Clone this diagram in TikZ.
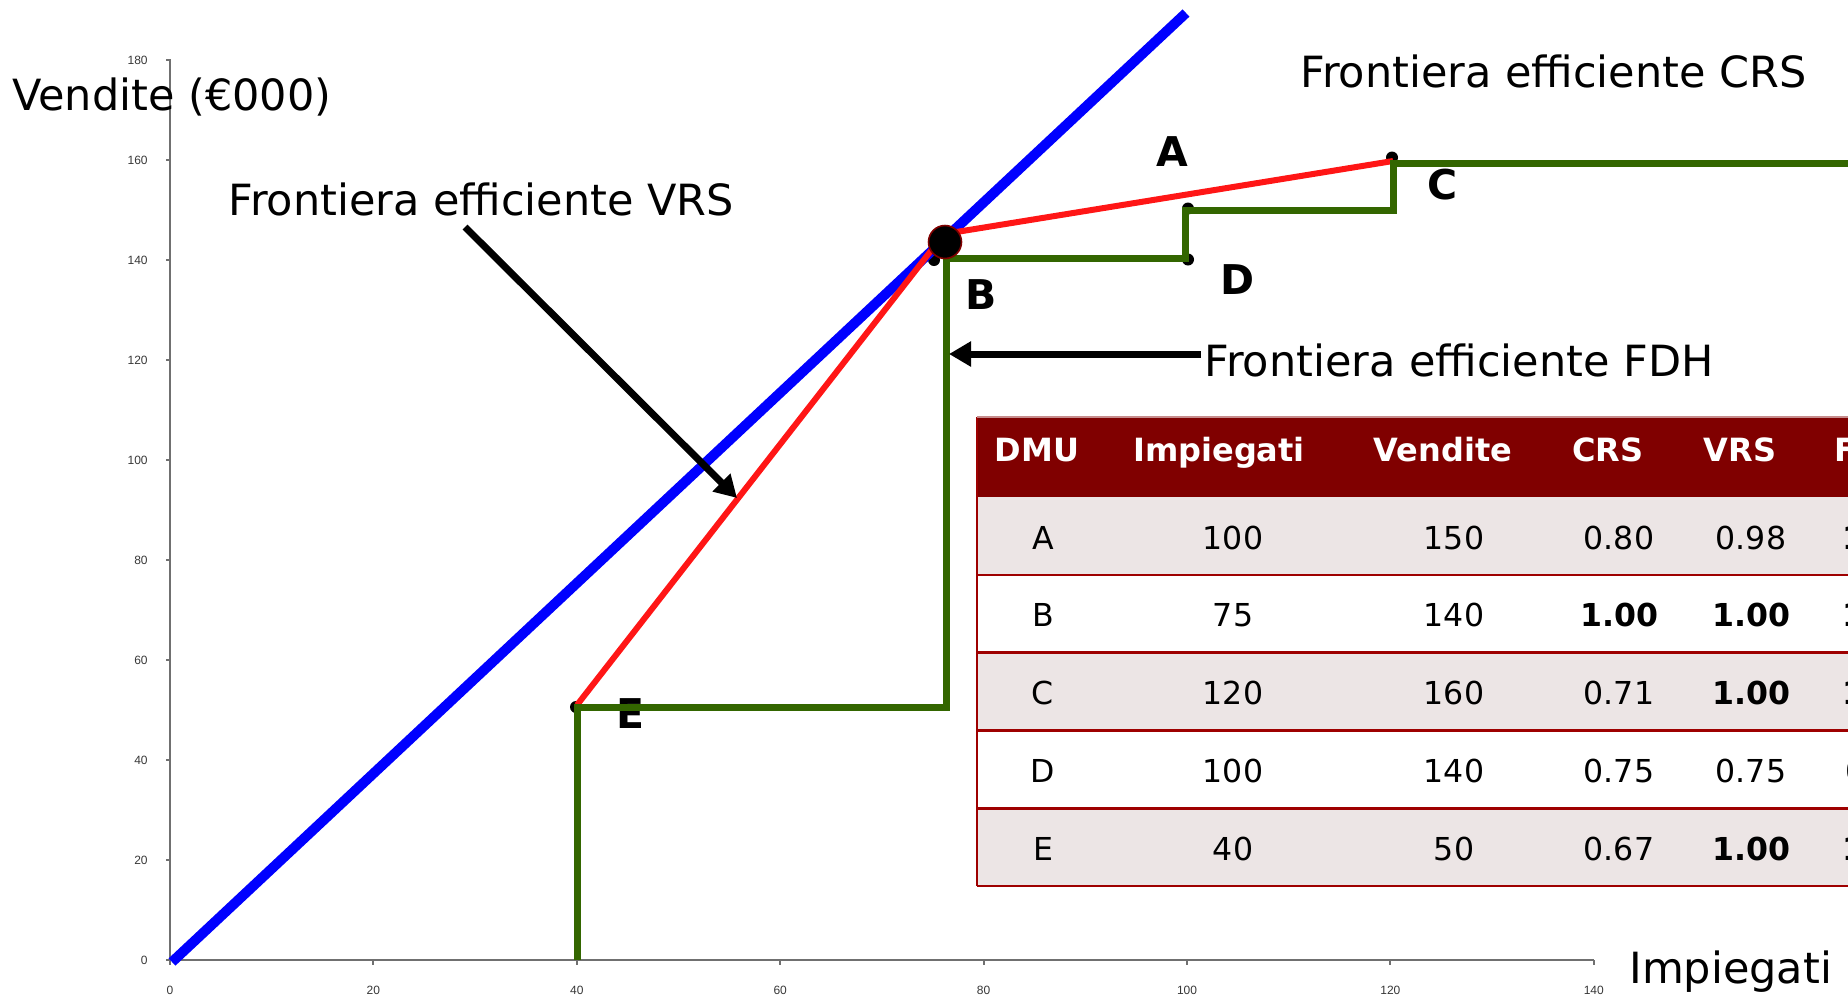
\documentclass[tikz,border=0pt]{standalone}
\usepackage{fontspec}
\setmainfont{DejaVu Sans}
\newfontfamily\tickfont{Liberation Sans}
\usetikzlibrary{arrows.meta}

\definecolor{crsblue}{RGB}{0,0,255}
\definecolor{vrsred}{RGB}{255,22,22}
\definecolor{fdhgreen}{RGB}{51,102,0}
\definecolor{headred}{RGB}{128,0,0}
\definecolor{rowline}{RGB}{158,0,0}
\definecolor{rowfill}{RGB}{236,229,229}
\definecolor{axisgray}{RGB}{112,112,112}
\definecolor{ticktext}{RGB}{55,55,55}

\begin{document}
\begin{tikzpicture}[x=0.5pt,y=-0.5pt,
  biglabel/.style={font=\fontsize{21.5}{26}\selectfont, inner sep=0pt, anchor=base west},
  dmuname/.style={font=\fontsize{20.5}{24}\selectfont\bfseries, inner sep=0pt},
  dmudot/.style={circle, fill=black, inner sep=0pt, minimum size=6pt},
  tick/.style={font=\tickfont\fontsize{6}{7}\selectfont, text=ticktext, inner sep=0pt},
  axisline/.style={draw=axisgray, line width=1pt},
  headcell/.style={font=\fontsize{16}{19}\selectfont\bfseries, text=white, inner sep=0pt, anchor=base},
  cell/.style={font=\fontsize{15.8}{19}\selectfont, inner sep=0pt, anchor=base},
  pointer/.style={draw=black, line width=3.5pt, -{Triangle[length=11pt,width=12pt]}},
]
\useasboundingbox (0,0) rectangle (1848,998);
\clip (0,0) rectangle (1848,998);

% ---------- axes ----------
\coordinate (O) at (170,960);
\coordinate (ytop) at (170,59);
\coordinate (xend) at (1594,960);
\draw[axisline] (ytop) -- (O) -- (xend);
\foreach \v in {0,20,...,180}{
  \draw[axisline] (166,960-5*\v) -- (170,960-5*\v);
  \node[tick, anchor=east] (yt\v) at (148,960-5*\v) {\v};
}
\foreach \v in {0,20,...,140}{
  \draw[axisline] (170+10.17*\v,960) -- (170+10.17*\v,965);
  \node[tick] (xt\v) at (170+10.17*\v,990) {\v};
}

% ---------- captions ----------
\node[biglabel] (ylab) at (12,110) {Vendite (€000)};
\node[biglabel] (xlab) at (1629,983) {Impiegati};
\node[biglabel] (crslab) at (1300,87) {Frontiera efficiente CRS};
\node[biglabel] (vrslab) at (228,215) {Frontiera efficiente VRS};
\node[biglabel] (fdhlab) at (1204,376) {Frontiera efficiente FDH};

% ---------- DMU names ----------
\node[dmuname] (nA) at (1172,152) {A};
\node[dmuname] (nB) at (981,295) {B};
\node[dmuname] (nC) at (1443,185) {C};
\node[dmuname] (nD) at (1238,280) {D};
\node[dmuname] (nE) at (630,714) {E};

% ---------- data table ----------
\fill[headred] (977,417) rectangle (1860,497);
\foreach \t/\f in {497/rowfill,574.8/white,652.6/rowfill,730.4/white,808.2/rowfill}{
  \fill[\f] (977,\t) rectangle (1860,\t+77.8);
}
\foreach \t in {574.8,652.6,730.4,808.2,886}{
  \draw[rowline, line width=1.3pt] (977,\t) -- (1860,\t);
}
\draw[rowline, line width=1.2pt] (977,417) -- (977,886);
\draw[headred!45, line width=0.6pt] (977,417) -- (1860,417);

\node[headcell] (hDMU) at (1037,461.5) {DMU};
\node[headcell] (hImp) at (1219,461.5) {Impiegati};
\node[headcell] (hVen) at (1443,461.5) {Vendite};
\node[headcell] (hCRS) at (1608,461.5) {CRS};
\node[headcell] (hVRS) at (1740,461.5) {VRS};
\node[headcell] (hFDH) at (1872,461.5) {FDH};

\foreach \r/\n/\i/\s/\c/\w/\f in {
  0/A/100/150/0.80/0.98/\textbf{1.00},
  1/B/75/140/\textbf{1.00}/\textbf{1.00}/\textbf{1.00},
  2/C/120/160/0.71/\textbf{1.00}/\textbf{1.00},
  3/D/100/140/0.75/0.75/0.93,
  4/E/40/50/0.67/\textbf{1.00}/\textbf{1.00}}{
  \node[cell] (c\r a) at (1043,549+77.8*\r) {\n};
  \node[cell] (c\r b) at (1233,549+77.8*\r) {\i};
  \node[cell] (c\r c) at (1454,549+77.8*\r) {\s};
  \node[cell] (c\r d) at (1619,549+77.8*\r) {\c};
  \node[cell] (c\r e) at (1751,549+77.8*\r) {\w};
  \node[cell] (c\r f) at (1881,549+77.8*\r) {\f};
}

% ---------- DMU points ----------
\node[dmudot] (pA) at (1188,208.5) {};
\node[dmudot] (pB) at (934,260) {};
\node[dmudot] (pC) at (1392,157.5) {};
\node[dmudot] (pD) at (1188,259.5) {};
\node[dmudot] (pE) at (576,707) {};

% ---------- CRS frontier ----------
\coordinate (crs0) at (172,962);
\coordinate (crs1) at (1186,13);
\draw[crsblue, line width=5pt] (crs0) -- (crs1);

% ---------- VRS frontier ----------
\coordinate (vE) at (577,705);
\coordinate (vB) at (944,234);
\coordinate (vC) at (1393,161);
\draw[vrsred, line width=3pt, line join=round] (vE) -- (vB) -- (vC);

% ---------- FDH frontier ----------
\coordinate (g0) at (577,960);
\coordinate (g1) at (577,707);
\coordinate (g2) at (946,707);
\coordinate (g3) at (946,258.7);
\coordinate (g4) at (1185.5,258.7);
\coordinate (g5) at (1185.5,210.8);
\coordinate (g6) at (1393,210.8);
\coordinate (g7) at (1393,163);
\coordinate (g8) at (1860,163);
\draw[fdhgreen, line width=3.5pt] (g0) -- (g1) -- (g2) -- (g3) -- (g4) -- (g5) -- (g6) -- (g7) -- (g8);

% ---------- efficient DMU B ----------
\node[circle, fill=black, draw=headred, line width=0.8pt, inner sep=0pt, minimum size=16.5pt] (bigB) at (945,242) {};

% ---------- pointers ----------
\coordinate (vrsfrom) at (465,227);
\coordinate (vrsto) at (737,498);
\draw[pointer] (vrsfrom) -- (vrsto);
\coordinate (fdhfrom) at (1201,354);
\coordinate (fdhto) at (949,354);
\draw[pointer] (fdhfrom) -- (fdhto);
\end{tikzpicture}
\end{document}
